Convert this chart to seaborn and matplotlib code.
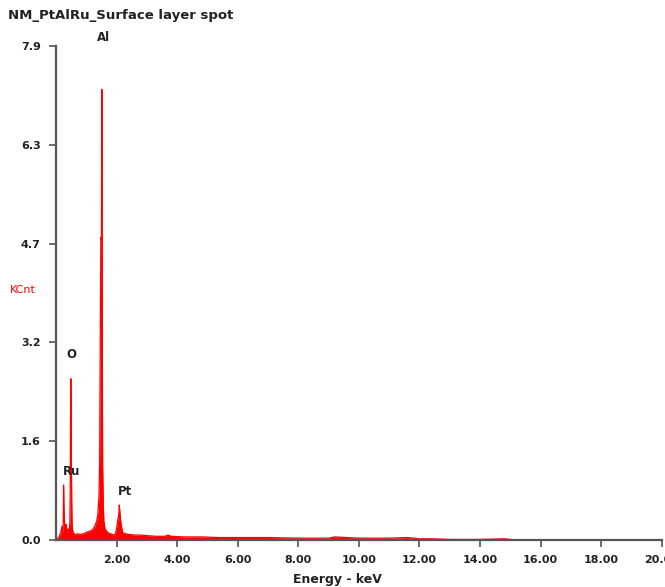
import numpy as np
import matplotlib
matplotlib.use("Agg")
import matplotlib.pyplot as plt
import seaborn as sns

# EDS spectrum (keV, KCnt)
energy = [0.00, 0.10, 0.16, 0.20, 0.22, 0.24, 0.25, 0.26, 0.27, 0.28, 0.30, 0.32,
          0.34, 0.36, 0.40, 0.44, 0.46, 0.47, 0.48, 0.49, 0.50, 0.51, 0.52, 0.53,
          0.55, 0.57, 0.60, 0.65, 0.70, 0.80, 0.90, 1.00, 1.10, 1.20, 1.28, 1.34,
          1.38, 1.42, 1.44, 1.46, 1.48, 1.50, 1.51, 1.52, 1.53, 1.54, 1.56, 1.58,
          1.62, 1.70, 1.80, 1.90, 1.96, 2.00, 2.04, 2.06, 2.08, 2.09, 2.10, 2.12,
          2.15, 2.20, 2.30, 2.40, 2.60, 2.80, 3.00, 3.30, 3.60, 3.70, 3.80, 4.20,
          4.80, 5.40, 6.00, 7.00, 8.00, 9.00, 9.20, 10.00, 11.00, 11.60, 12.00,
          12.40, 13.00, 14.00, 14.80, 15.20, 20.00]
counts = [0.00, 0.05, 0.12, 0.22, 0.10, 0.30, 0.88, 0.60, 0.43, 0.30, 0.20, 0.15,
          0.25, 0.12, 0.18, 0.15, 0.30, 0.80, 1.91, 2.58, 2.00, 1.20, 0.60, 0.25,
          0.15, 0.12, 0.10, 0.08, 0.10, 0.09, 0.10, 0.12, 0.14, 0.16, 0.22, 0.30,
          0.40, 0.70, 1.23, 3.03, 4.84, 4.80, 7.21, 7.18, 3.00, 1.20, 0.60, 0.30,
          0.18, 0.12, 0.10, 0.08, 0.10, 0.18, 0.32, 0.37, 0.45, 0.56, 0.50, 0.38,
          0.25, 0.12, 0.10, 0.09, 0.08, 0.08, 0.07, 0.06, 0.06, 0.08, 0.06, 0.05,
          0.05, 0.04, 0.04, 0.04, 0.03, 0.03, 0.05, 0.03, 0.03, 0.04, 0.02,
          0.02, 0.01, 0.01, 0.02, 0.00, 0.00]

peak_names = ["Al", "O", "Ru", "Pt"]
peak_x = [1.58, 0.50, 0.53, 2.28]
peak_y = [8.03, 2.96, 1.10, 0.78]

xticks = [2, 4, 6, 8, 10, 12, 14, 16, 18, 20]
yticks = [0.0, 1.58, 3.16, 4.74, 6.32, 7.9]
ytick_labels = ["0.0", "1.6", "3.2", "4.7", "6.3", "7.9"]

sns.set_style("ticks")
fig = plt.figure(figsize=(6.65, 5.87), dpi=100)
ax = fig.add_axes([0.0842, 0.080, 0.911, 0.8416])

ax.fill_between(energy, counts, color="red", lw=0)
sns.lineplot(x=energy, y=counts, color="red", lw=0.9, ax=ax)

ax.set_xlim(0, 20)
ax.set_ylim(0, 7.9)
ax.set_xticks(xticks)
ax.set_xticklabels(["%.2f" % v for v in xticks])
ax.set_yticks(yticks)
ax.set_yticklabels(ytick_labels)

for s in ["top", "right"]:
    ax.spines[s].set_visible(False)
for s in ["left", "bottom"]:
    ax.spines[s].set_color("#555555")
    ax.spines[s].set_linewidth(1.6)
ax.tick_params(direction="out", length=5, width=1.2, color="#555555", pad=6,
               labelsize=8)
for lab in ax.get_xticklabels() + ax.get_yticklabels():
    lab.set_fontweight("bold")
    lab.set_color("#222222")

for name, x, y in zip(peak_names, peak_x, peak_y):
    ax.text(x, y, name, ha="center", va="center", fontsize=8.5,
            fontweight="bold", color="#222222", clip_on=False)

fig.text(8 / 665, 1 - 15 / 587, "NM_PtAlRu_Surface layer spot", ha="left",
         va="center", fontsize=9.5, fontweight="bold", color="#222222")
fig.text(23 / 665, 1 - 290 / 587, "KCnt", ha="center", va="center",
         fontsize=8, color="red")
fig.text(337 / 665, 1 - 580 / 587, "Energy - keV", ha="center", va="center",
         fontsize=9, fontweight="bold", color="#222222")

fig.savefig("out.png", dpi=100)
